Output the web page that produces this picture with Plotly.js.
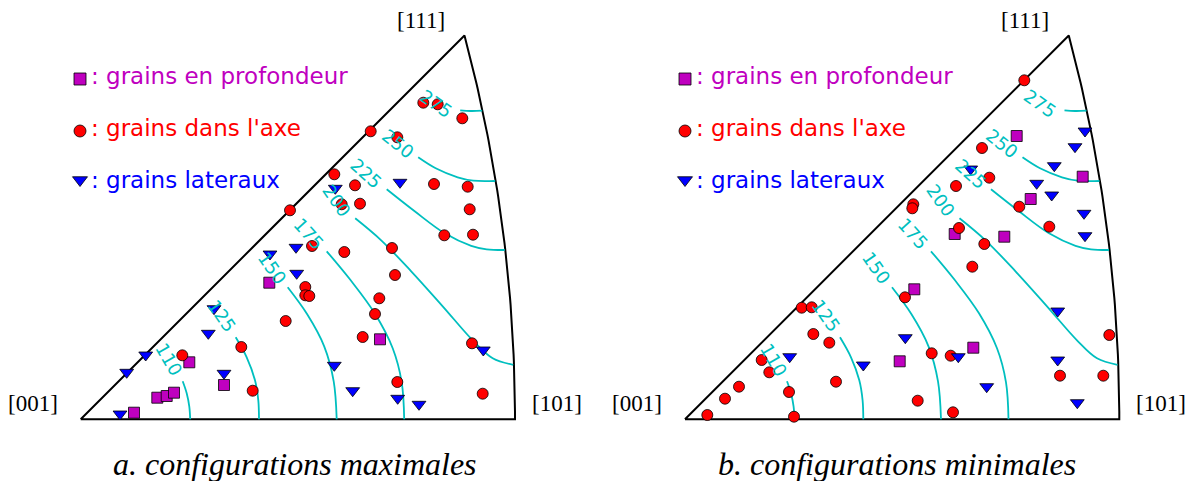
<!DOCTYPE html>
<html><head><meta charset="utf-8">
<script src="https://cdn.plot.ly/plotly-3.0.1.min.js"></script>
<style>body{margin:0;background:#fff}#chart{width:1192px;height:481px}</style>
</head><body><div id="chart"></div>
<script>
// ---- Data (projection units, origin at [001]) ----
// Panel a: configurations maximales
const aSquaresX = [53.3, 76.6, 86, 93.3, 108.6, 143.3, 188.6, 299.3];
const aSquaresY = [6.6, 21.6, 23.3, 26.6, 57, 34.3, 136.6, 80];
const aCirclesX = [342.6, 357, 381.6, 290, 316.6, 253.6, 274.3, 353.3, 387, 261, 279.3, 389, 209.3, 363.6, 392.3, 231.3, 263.6, 311.3, 314.3, 224.6, 224.6, 228.6, 298.6, 294.3, 205, 282, 160.6, 101.6, 391.3, 316.6, 172, 402];
const aCirclesY = [316.6, 315, 301, 288, 282, 245, 234, 235.3, 232.6, 215, 215.6, 210, 209, 184, 184.6, 173.3, 167.3, 171.3, 144.3, 132.3, 124, 123.3, 121, 105.3, 98.3, 82.3, 72.3, 64, 76, 37.3, 28.6, 25.6];
const aTrianglesX = [39.3, 46, 65, 143.3, 127.6, 133.3, 189.3, 215.3, 216, 254.6, 319.3, 253.6, 272, 317, 338.3, 402.6];
const aTrianglesY = [5.3, 47, 64.3, 46, 86, 110.6, 165.3, 172, 146, 231, 237, 54, 28.6, 21, 15, 69.3];

// Panel b: configurations minimales
const bSquaresX = [331.7, 397.7, 345.7, 269.7, 319.3, 229.3, 288.3, 214.7];
const bSquaresY = [283.3, 242.6, 220.3, 185.3, 182.6, 130, 71.6, 58];
const bCirclesX = [339.3, 297, 304.3, 271, 228.3, 227.3, 334.3, 364.3, 274, 299.3, 287.3, 220, 116.7, 126.7, 128.3, 144.3, 424.3, 246.7, 265.7, 76.7, 84.3, 375, 418.3, 151, 54, 104, 40, 232.7, 22.3, 109, 268];
const bCirclesY = [339, 271.3, 241.6, 233.3, 215, 211, 212.6, 192.6, 191.3, 175.3, 152.6, 122, 111.6, 112, 85.3, 76.6, 84.3, 66, 63.6, 59.3, 47, 43.6, 43.6, 37.6, 32.6, 27.3, 20.6, 18.6, 4.3, 2.6, 7];
const bTrianglesX = [400, 390, 369.3, 285.7, 351.7, 366.7, 399, 400, 372.7, 220.3, 104.7, 178.3, 273.3, 372.7, 301.7, 392.3];
const bTrianglesY = [288.3, 272.6, 253.6, 250.3, 236, 224.3, 206, 183.6, 108.3, 81.6, 62.6, 54.3, 62.6, 59.3, 32.6, 16.6];

// Iso-value contour lines (same in both panels)
const contourLevels = ['110', '125', '150', '175', '200', '225', '250', '275'];
const c110X = [102, 106, 108.6, 109.5];            const c110Y = [38, 26, 12.6, 0];
const c125X = [155, 166, 174.3, 177.6, 178.3];     const c125Y = [82, 62, 39, 19, 0];
const c150X = [207, 226.5, 243.5, 253, 256];       const c150Y = [132, 105, 73, 38, 0];
const c175X = [246, 270, 294, 312, 321, 323.5];    const c175Y = [168, 139, 106, 71, 37, 0];
const c200X = [274.5, 300.5, 330.5, 362, 392, 412, 432.5]; const c200Y = [201, 179, 148, 113, 79, 61, 54.5];
const c225X = [306, 334, 364, 390.5, 406, 424];    const c225Y = [230, 208, 186, 173.5, 170, 169.3];
const c250X = [337.5, 355, 377, 392.6, 414.5];     const c250Y = [262, 251, 242, 238.6, 238.3];
const c275X = [379.5, 390, 401.5];                 const c275Y = [309, 308.3, 308.6];
const contourX = [c110X, c125X, c150X, c175X, c200X, c225X, c250X, c275X];
const contourY = [c110Y, c125Y, c150Y, c175Y, c200Y, c225Y, c250Y, c275Y];
const labelX = [88.5, 141, 191, 228, 256, 285.5, 317, 355];
const labelY = [60, 104, 151.5, 186, 219.3, 246, 276, 316];
const labelAngle = [60, 55, 55, 48, 55, 42, 38, 35];

const poleLabels = ['[001]', '[101]', '[111]'];
const legendLabels = [': grains en profondeur', ": grains dans l'axe", ': grains lateraux'];
const captions = ['a. configurations maximales', 'b. configurations minimales'];

// ---- Frame of the standard stereographic triangle ----
const S = 1048.5;
const frameX = [0], frameY = [0];
for (let i = 0; i <= 60; i++) {
  const t = i / 60;
  const n = Math.sqrt(2 + t * t);
  frameX.push(S / (n + 1));
  frameY.push(S * t / (n + 1));
}
frameX.push(0); frameY.push(0);

const MAG = '#bf00bf', RED = '#ff0000', BLU = '#0000ff', CYA = '#00bfbf';
const traces = [];
const annotations = [];
const panels = [
  {xa: 'x', ya: 'y', sq: [aSquaresX, aSquaresY], ci: [aCirclesX, aCirclesY], tr: [aTrianglesX, aTrianglesY]},
  {xa: 'x2', ya: 'y2', sq: [bSquaresX, bSquaresY], ci: [bCirclesX, bCirclesY], tr: [bTrianglesX, bTrianglesY]}
];
panels.forEach((p, k) => {
  traces.push({x: frameX, y: frameY, xaxis: p.xa, yaxis: p.ya, mode: 'lines',
    line: {color: '#000', width: 2}, hoverinfo: 'skip'});
  contourX.forEach((cx, i) => {
    traces.push({x: cx, y: contourY[i], xaxis: p.xa, yaxis: p.ya, mode: 'lines',
      line: {color: CYA, width: 1.8, shape: 'spline'}, hoverinfo: 'skip'});
    annotations.push({xref: p.xa, yref: p.ya, x: labelX[i], y: labelY[i], text: contourLevels[i],
      showarrow: false, textangle: labelAngle[i], font: {family: 'DejaVu Sans', size: 18, color: CYA}});
  });
  const mk = (sym, col, size) => ({symbol: sym, color: col, size: size, line: {color: '#000', width: 0.8}});
  traces.push({x: p.sq[0], y: p.sq[1], xaxis: p.xa, yaxis: p.ya, mode: 'markers', marker: mk('square', MAG, 11)});
  traces.push({x: p.ci[0], y: p.ci[1], xaxis: p.xa, yaxis: p.ya, mode: 'markers', marker: mk('circle', RED, 11)});
  traces.push({x: p.tr[0], y: p.tr[1], xaxis: p.xa, yaxis: p.ya, mode: 'markers', marker: mk('triangle-down', BLU, 12)});
  // legend
  const lx = k === 0 ? -0.7 : 0;
  traces.push({x: [lx], y: [340.3], xaxis: p.xa, yaxis: p.ya, mode: 'markers', marker: mk('square', MAG, 12)});
  traces.push({x: [lx], y: [288.3], xaxis: p.xa, yaxis: p.ya, mode: 'markers', marker: mk('circle', RED, 12)});
  traces.push({x: [lx], y: [239.3], xaxis: p.xa, yaxis: p.ya, mode: 'markers', marker: mk('triangle-down', BLU, 13)});
  const legCols = [MAG, RED, BLU], legY = [343.3, 291.3, 239.3];
  legendLabels.forEach((t, i) => annotations.push({xref: p.xa, yref: p.ya, x: lx + 9, y: legY[i], text: t,
    showarrow: false, xanchor: 'left', yanchor: 'middle', font: {family: 'DejaVu Sans', size: 23, color: legCols[i]}}));
  // pole labels
  const pX = [-47.7, 476.3, 340.3], pY = [16.3, 16.3, 399.3];
  poleLabels.forEach((t, i) => annotations.push({xref: p.xa, yref: p.ya, x: pX[i], y: pY[i], text: t,
    showarrow: false, font: {family: 'Liberation Serif', size: 23, color: '#000'}}));
  annotations.push({xref: 'paper', yref: 'paper', x: k === 0 ? 295 / 1192 : 897 / 1192, y: 1 - 464 / 481,
    text: captions[k], showarrow: false, xanchor: 'center', yanchor: 'middle',
    font: {family: 'Liberation Serif', size: 32, color: '#000', style: 'italic'}});
});

const hidden = {visible: false, showgrid: false, zeroline: false, fixedrange: true};
const layout = {
  width: 1192, height: 481, margin: {l: 0, r: 0, t: 0, b: 0},
  paper_bgcolor: '#fff', plot_bgcolor: 'rgba(0,0,0,0)', showlegend: false,
  xaxis: Object.assign({domain: [0, 0.5], range: [-80.7, 515.3]}, hidden),
  yaxis: Object.assign({domain: [0, 1], range: [-61.7, 419.3]}, hidden),
  xaxis2: Object.assign({domain: [0.5, 1], range: [-89, 507], anchor: 'y2'}, hidden),
  yaxis2: Object.assign({domain: [0, 1], range: [-61.7, 419.3], anchor: 'x2'}, hidden),
  annotations: annotations
};
Plotly.newPlot('chart', traces, layout, {staticPlot: true, displayModeBar: false});
</script></body></html>
